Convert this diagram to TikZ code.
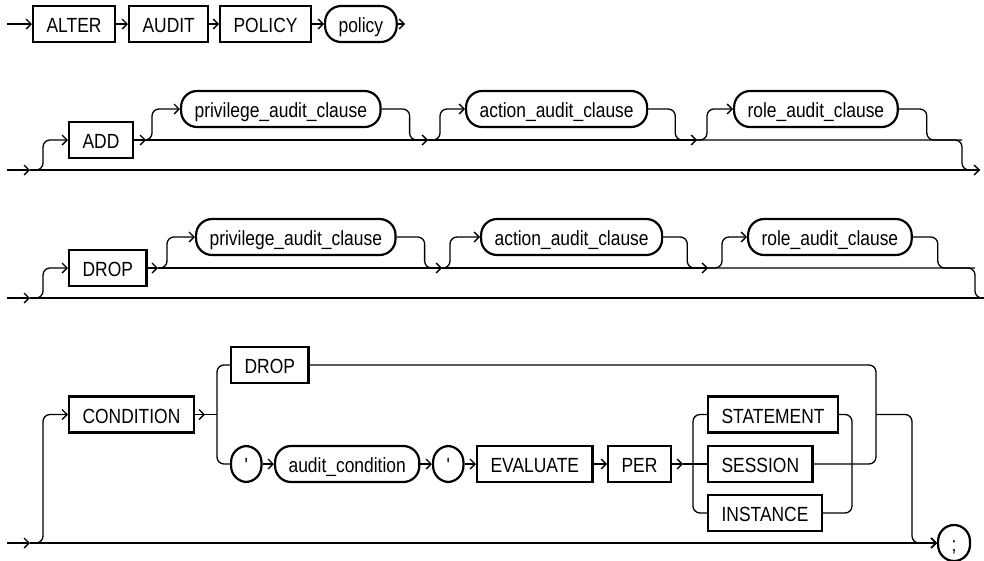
\documentclass[tikz,border=0pt]{standalone}
\usepackage{fontspec}
\newfontfamily\railfont{Liberation Sans}[FakeStretch=0.85]
\usetikzlibrary{arrows.meta}
\tikzset{
  rail/.style={line width=1.3pt, rounded corners=7pt},
  flow/.style={rail, -{Straight Barb[length=5pt,width=10pt]}},
  kw/.style={draw, line width=2.2pt, anchor=west, minimum height=36pt,
    inner xsep=13.5pt, inner ysep=0pt, text height=17.5pt, text depth=0pt,
    font=\railfont\fontsize{20.5}{23}\selectfont},
  nt/.style={kw, rounded corners=16pt},
}

\begin{document}
\begin{tikzpicture}[x=1pt, y=-1pt]
    \useasboundingbox (0,0) rectangle (984,560);
    % ALTER AUDIT POLICY policy
    \coordinate (t0) at (7,24);
    \node[kw] (alter) at (32,24) {ALTER};
    \node[kw] (audit) at (128,24) {AUDIT};
    \node[kw] (policykw) at (219,24) {POLICY};
    \node[nt] (policy) at (324,24) {policy};
    \coordinate (t1) at (405,24);
    \draw[flow] (t0) -- (alter);
    \draw[flow] (alter) -- (audit);
    \draw[flow] (audit) -- (policykw);
    \draw[flow] (policykw) -- (policy);
    \draw[flow] (policy) -- (t1);
    % ADD row
    \coordinate (a0) at (7,170);
    \coordinate (a1) at (30,170);
    \coordinate (a9) at (980,170);
    \node[kw] (add) at (68,140) {ADD};
    \coordinate (ab) at (146,140);
    \node[nt] (addpriv) at (180,109) {privilege\_audit\_clause};
    \coordinate (ac) at (428,140);
    \node[nt] (addact) at (465,109) {action\_audit\_clause};
    \coordinate (ad) at (697,140);
    \node[nt] (addrole) at (733,109) {role\_audit\_clause};
    \coordinate (ae) at (962,140);
    \draw[flow] (a0) -- (a1);
    \draw[flow] (a1) -- (a9);
    \draw[flow] (a1) -- ++(13,0) |- (add.west);
    \draw[flow] (add.east) -- (ab);
    \draw[flow] (ab) -- (ac);
    \draw[flow] (ac) -- (ad);
    \draw[rail] (ad) -- (ae) |- (a9);
    \draw[flow] (ab) -- ++(6,0) |- (addpriv.west);
    \draw[rail] (addpriv.east) -- ++(28,0) |- (ac);
    \draw[flow] (ac) -- ++(12,0) |- (addact.west);
    \draw[rail] (addact.east) -- ++(27,0) |- (ad);
    \draw[flow] (ad) -- ++(10,0) |- (addrole.west);
    \draw[rail] (addrole.east) -- ++(28,0) |- (ae);
    % DROP row
    \coordinate (d0) at (7,298);
    \coordinate (d1) at (30,298);
    \coordinate (d9) at (984,298);
    \node[kw] (drop) at (68,268) {DROP};
    \coordinate (db) at (158,268);
    \node[nt] (droppriv) at (195,237) {privilege\_audit\_clause};
    \coordinate (dc) at (442,268);
    \node[nt] (dropact) at (480,237) {action\_audit\_clause};
    \coordinate (dd) at (708,268);
    \node[nt] (droprole) at (747,237) {role\_audit\_clause};
    \coordinate (de) at (975,268);
    \draw[flow] (d0) -- (d1);
    \draw[rail] (d1) -- (d9);
    \draw[flow] (d1) -- ++(13,0) |- (drop.west);
    \draw[flow] (drop.east) -- (db);
    \draw[flow] (db) -- (dc);
    \draw[flow] (dc) -- (dd);
    \draw[rail] (dd) -- (de) |- (d9);
    \draw[flow] (db) -- ++(9,0) |- (droppriv.west);
    \draw[rail] (droppriv.east) -- ++(28,0) |- (dc);
    \draw[flow] (dc) -- ++(8,0) |- (dropact.west);
    \draw[rail] (dropact.east) -- ++(24,0) |- (dd);
    \draw[flow] (dd) -- ++(14,0) |- (droprole.west);
    \draw[rail] (droprole.east) -- ++(25,0) |- (de);
    % CONDITION row
    \coordinate (c0) at (7,543);
    \coordinate (c1) at (30,543);
    \node[kw] (cond) at (68,414.5) {CONDITION};
    \coordinate (cj0) at (205,414.5);
    \coordinate (cj1) at (217,414.5);
    \node[kw] (cdrop) at (230,365) {DROP};
    \node[nt] (q1) at (230,464) {'};
    \node[nt] (acond) at (274,464) {audit\_condition};
    \node[nt] (q2) at (432,464) {'};
    \node[kw] (eval) at (476,464) {EVALUATE};
    \node[kw] (per) at (607,464) {PER};
    \coordinate (pj0) at (683,464);
    \coordinate (pj1) at (693,464);
    \node[kw] (stmt) at (707,414.5) {STATEMENT};
    \node[kw] (sess) at (707,464) {SESSION};
    \node[kw] (inst) at (707,513) {INSTANCE};
    \coordinate (pj2) at (852,464);
    \coordinate (cj2) at (876,414.5);
    \node[nt] (semi) at (937,543) {;};
    \draw[flow] (c0) -- (c1);
    \draw[flow] (c1) -- (semi.west);
    \draw[flow] (c1) -- ++(13,0) |- (cond.west);
    \draw[flow] (cond.east) -- (cj0);
    \draw[rail] (cj0) -- (cj1);
    \draw[rail] (cj1) |- (cdrop.west);
    \draw[rail] (cj1) |- (q1.west);
    \draw[flow] (q1) -- (acond);
    \draw[flow] (acond) -- (q2);
    \draw[flow] (q2) -- (eval);
    \draw[flow] (eval) -- (per);
    \draw[flow] (per.east) -- (pj0);
    \draw[rail] (pj0) -- (sess.west);
    \draw[rail] (pj1) |- (stmt.west);
    \draw[rail] (pj1) |- (inst.west);
    \draw[rail] (stmt.east) -| (pj2);
    \draw[rail] (inst.east) -| (pj2);
    \draw[rail] (sess.east) -| (cj2);
    \draw[rail] (cdrop.east) -| (cj2);
    \draw[flow] (cj2) -- ++(36,0) |- (semi.west);
\end{tikzpicture}
\end{document}
